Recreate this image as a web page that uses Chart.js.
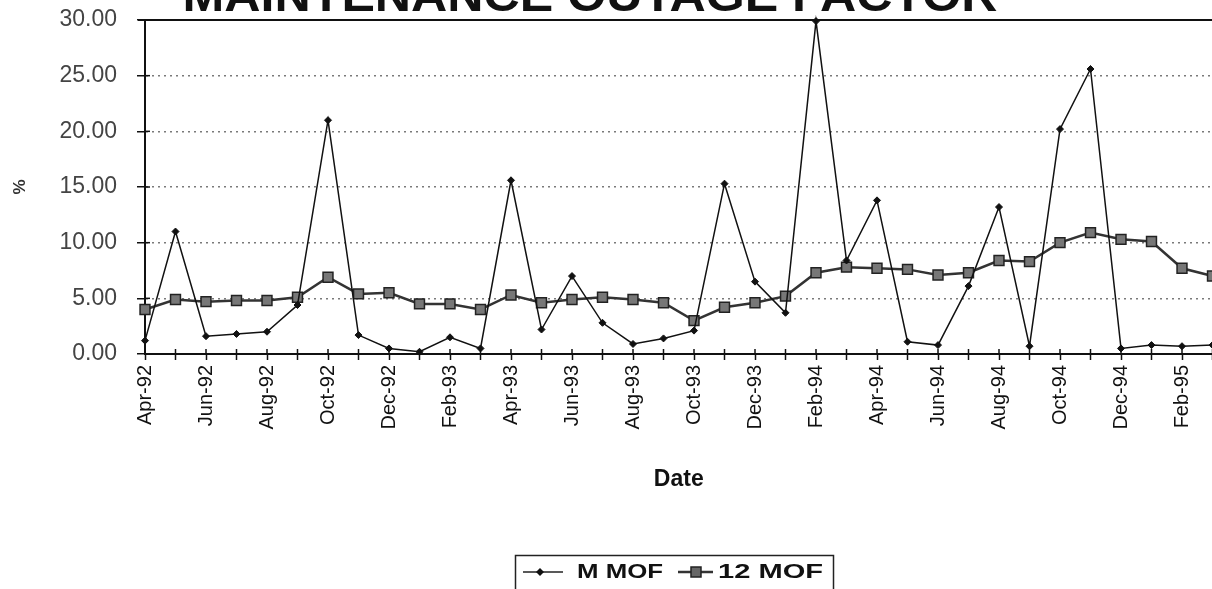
<!DOCTYPE html>
<html><head><meta charset="utf-8">
<script src="https://cdn.jsdelivr.net/npm/chart.js@4"></script>
<style>
html,body{margin:0;padding:0;background:#fff;overflow:hidden}
#wrap{position:relative;width:1212px;height:589px;overflow:hidden}
canvas{display:block}
</style></head>
<body><div id="wrap"><canvas id="c" width="1221" height="589"></canvas></div>
<script>
const categories = ['Apr-92','May-92','Jun-92','Jul-92','Aug-92','Sep-92','Oct-92','Nov-92','Dec-92','Jan-93','Feb-93','Mar-93',
  'Apr-93','May-93','Jun-93','Jul-93','Aug-93','Sep-93','Oct-93','Nov-93','Dec-93','Jan-94','Feb-94','Mar-94',
  'Apr-94','May-94','Jun-94','Jul-94','Aug-94','Sep-94','Oct-94','Nov-94','Dec-94','Jan-95','Feb-95','Mar-95'];
const shownTickLabels = ['Apr-92','Jun-92','Aug-92','Oct-92','Dec-92','Feb-93','Apr-93','Jun-93','Aug-93','Oct-93',
  'Dec-93','Feb-94','Apr-94','Jun-94','Aug-94','Oct-94','Dec-94','Feb-95'];
const mMof = [1.2, 11.0, 1.6, 1.8, 2.0, 4.4, 21.0, 1.7, 0.5, 0.2, 1.5, 0.5,
  15.6, 2.2, 7.0, 2.8, 0.9, 1.4, 2.1, 15.3, 6.5, 3.7, 29.9, 8.4,
  13.8, 1.1, 0.8, 6.1, 13.2, 0.7, 20.2, 25.6, 0.5, 0.8, 0.7, 0.8];
const mof12 = [4.0, 4.9, 4.7, 4.8, 4.8, 5.1, 6.9, 5.4, 5.5, 4.5, 4.5, 4.0,
  5.3, 4.6, 4.9, 5.1, 4.9, 4.6, 3.0, 4.2, 4.6, 5.2, 7.3, 7.8,
  7.7, 7.6, 7.1, 7.3, 8.4, 8.3, 10.0, 10.9, 10.3, 10.1, 7.7, 7.0];
const yTicks = [0, 5, 10, 15, 20, 25, 30];
const chartTitle = 'MAINTENANCE OUTAGE FACTOR';
const seriesNames = ['M MOF', '12 MOF'];

const FAM = '"Liberation Sans", Arial, Helvetica, sans-serif';
Chart.defaults.font.family = FAM;

function drawStretched(ctx, text, x, y, targetW, align) {
  const w = ctx.measureText(text).width;
  const s = targetW / w;
  ctx.save();
  ctx.translate(x, y);
  ctx.scale(s, 1);
  ctx.textAlign = align;
  ctx.fillText(text, 0, 0);
  ctx.restore();
}
function noPad(s) { s.paddingTop = 0; s.paddingBottom = 0; s.paddingLeft = 0; s.paddingRight = 0; }

const decor = {
  id: 'decor',
  afterDraw(chart) {
    const {ctx, chartArea: a, scales: {x, y}} = chart;
    ctx.save();
    // top border
    ctx.strokeStyle = '#111';
    ctx.lineWidth = 2;
    ctx.beginPath(); ctx.moveTo(a.left - 7, a.top); ctx.lineTo(chart.width, a.top); ctx.stroke();
    // inner tick marks on x axis and y axis
    ctx.lineWidth = 1.5;
    for (let i = 0; i < categories.length; i++) {
      const px = x.getPixelForValue(i);
      ctx.beginPath(); ctx.moveTo(px, a.bottom - 5); ctx.lineTo(px, a.bottom); ctx.stroke();
    }
    for (const v of yTicks) {
      const py = y.getPixelForValue(v);
      ctx.beginPath(); ctx.moveTo(a.left, py); ctx.lineTo(a.left + 5, py); ctx.stroke();
    }
    // title (cut off at top)
    ctx.fillStyle = '#111';
    ctx.font = 'bold 46px ' + FAM;
    ctx.textBaseline = 'alphabetic';
    drawStretched(ctx, chartTitle, 590, 11, 815, 'center');

    // legend
    ctx.strokeStyle = '#222';
    ctx.lineWidth = 1.5;
    ctx.strokeRect(515.5, 555.5, 318, 60);
    const ly = 572;
    ctx.lineWidth = 1.5;
    ctx.beginPath(); ctx.moveTo(523, ly); ctx.lineTo(563, ly); ctx.stroke();
    ctx.fillStyle = '#111';
    ctx.beginPath(); ctx.moveTo(540, ly - 4); ctx.lineTo(544, ly); ctx.lineTo(540, ly + 4); ctx.lineTo(536, ly); ctx.closePath(); ctx.fill();
    ctx.strokeStyle = '#333';
    ctx.lineWidth = 2.5;
    ctx.beginPath(); ctx.moveTo(678, ly); ctx.lineTo(713, ly); ctx.stroke();
    ctx.fillStyle = '#666'; ctx.strokeStyle = '#222'; ctx.lineWidth = 1.5;
    ctx.fillRect(691, ly - 5, 10, 10); ctx.strokeRect(691, ly - 5, 10, 10);
    ctx.fillStyle = '#111';
    ctx.font = 'bold 20px ' + FAM;
    ctx.textBaseline = 'middle';
    drawStretched(ctx, seriesNames[0], 577, ly, 86, 'left');
    drawStretched(ctx, seriesNames[1], 718, ly, 105, 'left');
    ctx.restore();
  }
};

new Chart(document.getElementById('c'), {
  type: 'line',
  data: {
    labels: categories,
    datasets: [
      {
        label: seriesNames[0], data: mMof,
        borderColor: '#111', borderWidth: 1.5, tension: 0,
        pointStyle: 'rectRot', pointRadius: 3.5, pointBackgroundColor: '#111', pointBorderColor: '#111', pointBorderWidth: 1,
        clip: false
      },
      {
        label: seriesNames[1], data: mof12,
        borderColor: '#333', borderWidth: 2.5, tension: 0,
        pointStyle: 'rect', pointRadius: 7, pointBackgroundColor: '#777', pointBorderColor: '#222', pointBorderWidth: 1.5,
        clip: false
      }
    ]
  },
  options: {
    responsive: false, animation: false, devicePixelRatio: 1,
    layout: {padding: {top: 20, right: 1, left: 0, bottom: 0}},
    plugins: {legend: {display: false}, tooltip: {enabled: false}, title: {display: false}},
    scales: {
      x: {
        type: 'category', offset: false,
        grid: {drawOnChartArea: false, drawTicks: true, tickLength: 6, tickColor: '#111', tickWidth: 1.5},
        border: {color: '#111', width: 2},
        ticks: {
          autoSkip: false, maxRotation: 90, minRotation: 90, padding: 5, color: '#111',
          font: {size: 20},
          callback(v, i) { const l = categories[i]; return shownTickLabels.includes(l) ? l : ''; }
        },
        title: {display: true, text: 'Date', color: '#111', font: {size: 23, weight: 'bold'}, padding: {top: 0, bottom: 96}},
        afterFit(s) { s.height = 235; noPad(s); }
      },
      y: {
        min: 0, max: 30,
        afterBuildTicks(s) { s.ticks = yTicks.map(v => ({value: v})); },
        ticks: {color: '#444', font: {size: 23}, padding: 20, callback: v => Number(v).toFixed(2)},
        grid: {
          color: c => (c.tick && (c.tick.value === 0 || c.tick.value === 30)) ? 'rgba(0,0,0,0)' : '#7a7a7a',
          lineWidth: 1.5, tickLength: 8, tickColor: '#111', tickWidth: 1.5
        },
        border: {color: '#111', width: 2, dash: [2, 4]},
        title: {display: true, text: '%', color: '#333', font: {size: 17, weight: 'bold'}, padding: {top: 10, bottom: 0}},
        afterFit(s) { s.width = 145; noPad(s); }
      }
    }
  },
  plugins: [decor]
});
</script>
</body></html>
